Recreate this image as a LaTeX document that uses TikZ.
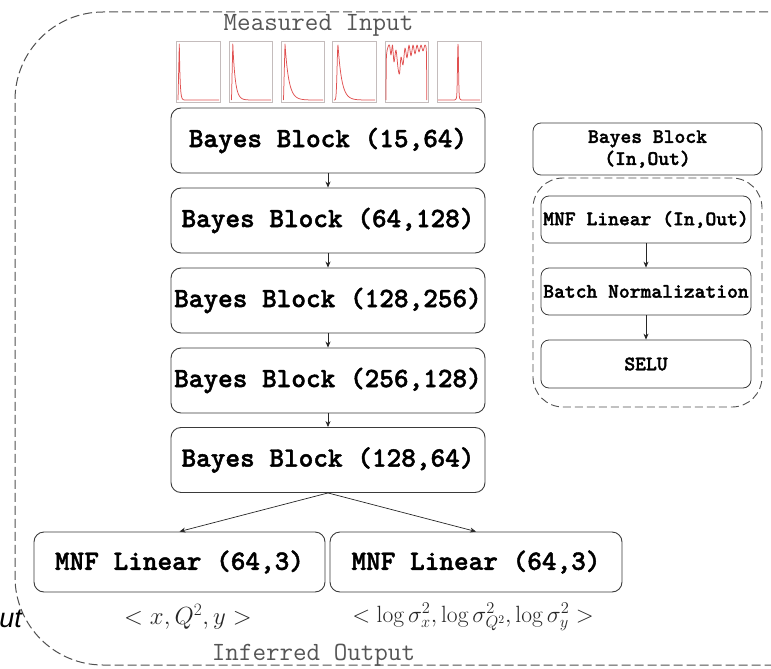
\RequirePackage{fix-cm}
\documentclass[tikz,border=0pt]{standalone}
\usepackage{fontspec}
\newfontfamily\sansfam{Liberation Sans}
\newfontfamily\boldtt{lmmonolt10-bold.otf}[FakeBold=1.6]
\usetikzlibrary{arrows.meta}
\definecolor{boxline}{HTML}{3A3A3A}
\definecolor{dashline}{HTML}{505050}
\definecolor{captxt}{HTML}{555555}
\definecolor{thumbline}{HTML}{C4BCBC}
\definecolor{curve}{HTML}{E05050}
\tikzset{
  bblock/.style={draw=boxline, line width=0.9pt, rounded corners=10pt,
    minimum width=314pt, minimum height=65pt, inner sep=0pt,
    font=\fontsize{27.9}{30}\selectfont\boldtt},
  mnfblock/.style={bblock, minimum width=291pt, minimum height=60pt},
  smallblock/.style={draw=boxline, line width=0.8pt, rounded corners=8pt,
    minimum width=210pt, minimum height=47pt, inner sep=0pt,
    font=\fontsize{20.6}{22}\selectfont\boldtt},
  arr/.style={draw=black!85, line width=0.7pt, -{Stealth[length=6pt,width=5pt]}},
  caption/.style={text=captxt, font=\fontsize{26.3}{28}\selectfont\ttfamily, inner sep=0pt},
  mathlab/.style={text=black!85, inner sep=0pt},
  thumb/.style={draw=thumbline, line width=0.6pt},
  crv/.style={draw=curve, line width=0.75pt, line join=round},
}
\begin{document}
\begin{tikzpicture}[x=1pt, y=-1pt]
\useasboundingbox (0,0) rectangle (771,669);

% outer dashed frame
\draw[dashline, line width=1pt, dash pattern=on 9pt off 4pt, rounded corners=88pt]
  (820,12) -- (15,12) -- (15,665) -- (820,665);

% captions
\node[caption] (min) at (318.5,25) {Measured Input};
\node[caption] (mout) at (313.5,655) {Inferred Output};

% thumbnails
\begin{scope}[shift={(176,102)}, yscale=-1]
  \draw[thumb] (0,0) rectangle (44,61);
  \draw[crv] (2,2) -- (3.3,58) -- plot[domain=3.3:43, samples=80] (\x,{2+56*exp(-(\x-3.3)/0.8)});
\end{scope}
\begin{scope}[shift={(229,102)}, yscale=-1]
  \draw[thumb] (0,0) rectangle (43,61);
  \draw[crv] (2.5,2) -- (3.8,58) -- plot[domain=3.8:42, samples=80] (\x,{2+56*exp(-(\x-3.8)/2.5)});
\end{scope}
\begin{scope}[shift={(281,102)}, yscale=-1]
  \draw[thumb] (0,0) rectangle (43,61);
  \draw[crv] (2.5,2) -- (4,58) -- plot[domain=4:42, samples=80] (\x,{2+56*exp(-(\x-4)/3.8)});
\end{scope}
\begin{scope}[shift={(332,102)}, yscale=-1]
  \draw[thumb] (0,0) rectangle (44,61);
  \draw[crv] plot[domain=2:6, samples=30] (\x,{2+55*exp(-(\x-6)*(\x-6)/1.6)})
    -- plot[domain=6:43, samples=80] (\x,{2+55*exp(-(\x-6)/3.8)});
\end{scope}
\begin{scope}[shift={(385,102)}, yscale=-1]
  \draw[thumb] (0,0) rectangle (43,61);
  \draw[crv] plot[smooth, tension=0.45] coordinates {(1,2) (1.4,45) (3,55) (4.5,57) (6,47) (7.5,57)
    (9,40) (11,52) (13,34) (14.5,28) (16,45) (18,37) (20,54) (22,44) (24,57) (26,46) (28,57)
    (30,48) (32,57) (34,50) (36,57) (38,51) (40,57) (41.4,50) (41.8,2)};
\end{scope}
\begin{scope}[shift={(437,102)}, yscale=-1]
  \draw[thumb] (0,0) rectangle (44,61);
  \draw[crv] plot[domain=1:43, samples=220] (\x,{2+4*exp(-(\x-21)*(\x-21)/3)+52*exp(-(\x-21)*(\x-21)/0.5)});
\end{scope}

% main column
\node[bblock] (b1) at (328,140.5) {Bayes Block (15,64)};
\node[bblock] (b2) at (328,220.5) {Bayes Block (64,128)};
\node[bblock] (b3) at (328,300.5) {Bayes Block (128,256)};
\node[bblock] (b4) at (328,380.5) {Bayes Block (256,128)};
\node[bblock] (b5) at (328,460) {Bayes Block (128,64)};
\draw[arr] (b1) -- (b2);
\draw[arr] (b2) -- (b3);
\draw[arr] (b3) -- (b4);
\draw[arr] (b4) -- (b5);

\node[mnfblock] (m1) at (179.5,562) {MNF Linear (64,3)};
\node[mnfblock, minimum width=292pt] (m2) at (476,562) {MNF Linear (64,3)};
\draw[arr] (b5.south) -- (m1.north);
\draw[arr] (b5.south) -- (m2.north);

\node[mathlab, font=\fontsize{24.8}{28}\selectfont] (l1) at (188,617) {$<x,Q^2,y>$};
\node[mathlab, font=\fontsize{23.5}{28}\selectfont] (l2) at (473,617) {$<\log\sigma_x^2,\log\sigma_{Q^2}^2,\log\sigma_y^2>$};

\node[anchor=base east, inner sep=0pt, font=\fontsize{27}{30}\selectfont\sansfam\itshape] (ut) at (22,627) {ut};

% right panel
\node[smallblock, minimum width=229pt, minimum height=52pt, align=center] (rb) at (647.5,149)
  {Bayes Block\\(In,Out)};
\draw[dashline, line width=0.9pt, dash pattern=on 8pt off 4pt, rounded corners=30pt]
  (533,178) rectangle (762,407);
\node[smallblock] (r1) at (646,219.5) {MNF Linear (In,Out)};
\node[smallblock] (r2) at (646,291.5) {Batch Normalization};
\node[smallblock, minimum height=48pt] (r3) at (646,364) {SELU};
\draw[arr] (r1) -- (r2);
\draw[arr] (r2) -- (r3);
\end{tikzpicture}
\end{document}
